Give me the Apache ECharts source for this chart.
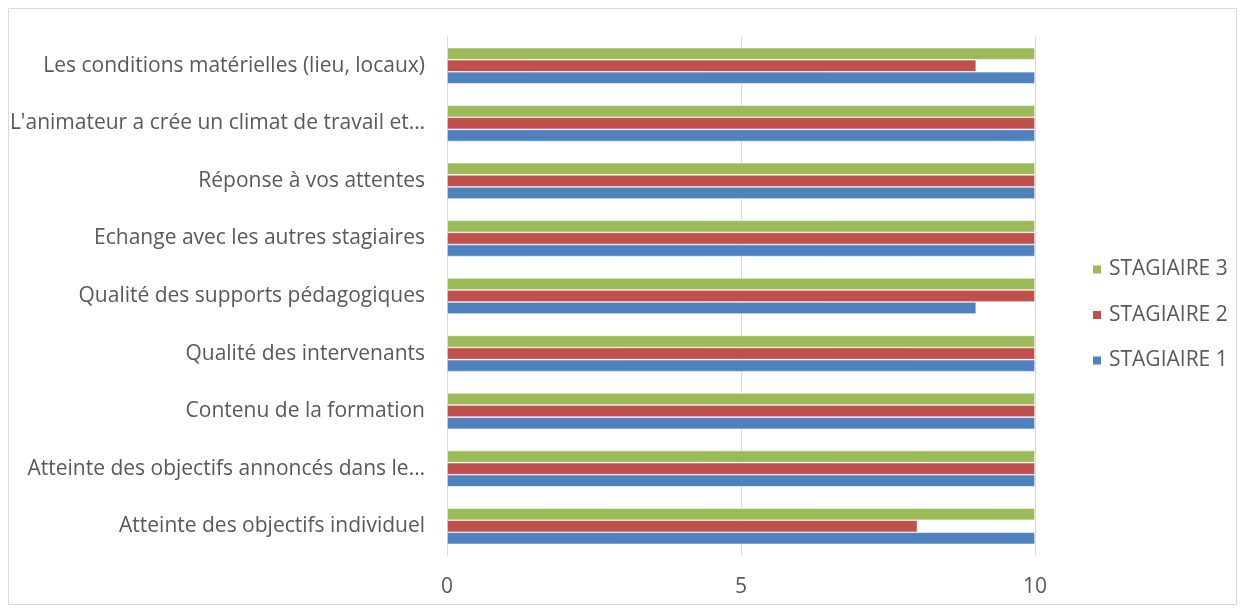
<!DOCTYPE html>
<html><head><meta charset="utf-8">
<script src="https://cdn.jsdelivr.net/npm/echarts@6/dist/echarts.min.js"></script>
<style>html,body{margin:0;padding:0;background:#fff}#c{width:1245px;height:612px}</style>
</head><body><div id="c"></div>
<script>
const categories = [
  "Atteinte des objectifs individuel",
  "Atteinte des objectifs annoncés dans le…",
  "Contenu de la formation",
  "Qualité des intervenants",
  "Qualité des supports pédagogiques",
  "Echange avec les autres stagiaires",
  "Réponse à vos attentes",
  "L'animateur a crée un climat de travail et…",
  "Les conditions matérielles (lieu, locaux)"
];
const stagiaire1 = [10, 10, 10, 10, 9, 10, 10, 10, 10];
const stagiaire2 = [8, 10, 10, 10, 10, 10, 10, 10, 9];
const stagiaire3 = [10, 10, 10, 10, 10, 10, 10, 10, 10];
const xTicks = [0, 5, 10];

const font = "'Open Sans', sans-serif";
const chart = echarts.init(document.getElementById('c'), null, {renderer: 'canvas'});
const mk = (name, data, color) => ({
  name, type: 'bar', data, barGap: '0%', barCategoryGap: '37%',
  itemStyle: {color, borderColor: '#ffffff', borderWidth: 0.6}
});
chart.setOption({
  animation: false,
  textStyle: {fontFamily: font},
  graphic: [{type: 'rect', shape: {x: 8.5, y: 8.5, width: 1228, height: 596},
    style: {fill: 'none', stroke: '#d9d9d9', lineWidth: 1}, silent: true}],
  grid: {left: 447, right: 210, top: 37, bottom: 57, containLabel: false},
  legend: {
    orient: 'vertical', left: 1086, top: 254, itemGap: 24.5, padding: 5,
    itemWidth: 10, itemHeight: 10, icon: 'rect',
    data: ['STAGIAIRE 3', 'STAGIAIRE 2', 'STAGIAIRE 1'],
    textStyle: {color: '#595959', fontSize: 21, lineHeight: 21, fontFamily: font, padding: [0,0,0,2]}
  },
  xAxis: {
    type: 'value', min: xTicks[0], max: xTicks[xTicks.length-1], interval: 5,
    axisLine: {show: false}, axisTick: {show: false},
    splitLine: {lineStyle: {color: '#d9d9d9', width: 1}},
    axisLabel: {color: '#595959', fontSize: 21, margin: 22, fontFamily: font}
  },
  yAxis: {
    type: 'category', data: categories,
    axisLine: {show: true, lineStyle: {color: '#d9d9d9', width: 1}},
    axisTick: {show: false},
    axisLabel: {color: '#595959', fontSize: 21, margin: 22, fontFamily: font}
  },
  series: [
    mk('STAGIAIRE 3', stagiaire3, '#9bbb59'),
    mk('STAGIAIRE 2', stagiaire2, '#c0504d'),
    mk('STAGIAIRE 1', stagiaire1, '#4f81bd')
  ]
});
</script></body></html>
